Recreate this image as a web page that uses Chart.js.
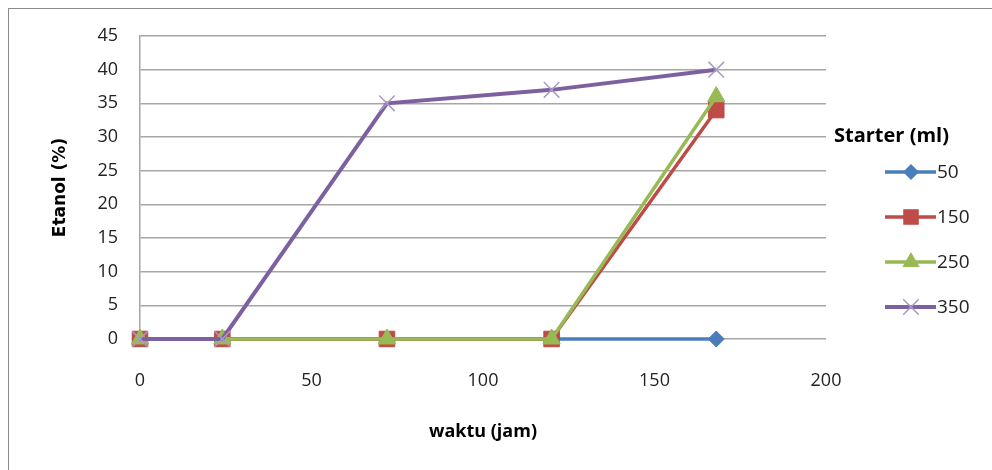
<!DOCTYPE html>
<html>
<head>
<meta charset="utf-8">
<script src="https://cdn.jsdelivr.net/npm/chart.js@4"></script>
<style>
  html, body { margin: 0; padding: 0; background: #fff; overflow: hidden; }
  #wrap { position: relative; width: 992px; height: 470px; }
  #frame { position: absolute; left: 8px; top: 8px; width: 1100px; height: 600px; border: 1px solid #8c8c8c; }
  canvas { position: absolute; left: 0; top: 0; }
</style>
</head>
<body>
<div id="wrap">
  <div id="frame"></div>
  <canvas id="etanolChart" width="992" height="470"></canvas>
</div>
<script>
// data
const hours = [0, 24, 72, 120, 168];
const starter50 = [0, 0, 0, 0, 0];
const starter150 = [0, 0, 0, 0, 34];
const starter250 = [0, 0, 0, 0, 36];
const starter350 = [0, 0, 35, 37, 40];
const seriesLabels = ['50', '150', '250', '350'];
const xTicks = [0, 50, 100, 150, 200];
const yTicks = [0, 5, 10, 15, 20, 25, 30, 35, 40, 45];

function toPoints(vals) {
    return hours.map((h, i) => ({ x: h, y: vals[i] }));
}

// legend drawn on the right, Excel style
const sideLegend = {
    id: 'sideLegend',
    afterDraw(chart) {
        const ctx = chart.ctx;
        ctx.save();
        ctx.fillStyle = '#000';
        ctx.font = 'bold 20px "Open Sans"';
        ctx.textBaseline = 'middle';
        ctx.textAlign = 'left';
        ctx.fillText('Starter (ml)', 834, 136);
        ctx.font = '19px "Open Sans"';
        chart.data.datasets.forEach((ds, i) => {
            const y = 172 + i * 45;
            ctx.strokeStyle = ds.borderColor;
            ctx.lineWidth = ds.borderWidth;
            ctx.beginPath();
            ctx.moveTo(885, y);
            ctx.lineTo(936, y);
            ctx.stroke();
            drawMarker(ctx, ds, 911, y);
            ctx.fillStyle = '#222';
            ctx.fillText(seriesLabels[i], 937, y + 1);
        });
        ctx.restore();
    }
};

function drawMarker(ctx, ds, x, y) {
    const r = ds.pointRadius;
    ctx.fillStyle = ds.pointBackgroundColor;
    ctx.strokeStyle = ds.pointBorderColor;
    ctx.lineWidth = ds.pointBorderWidth;
    ctx.beginPath();
    if (ds.pointStyle === 'rectRot') {
        ctx.moveTo(x - r, y); ctx.lineTo(x, y - r); ctx.lineTo(x + r, y); ctx.lineTo(x, y + r); ctx.closePath();
        ctx.fill();
    } else if (ds.pointStyle === 'rect') {
        const s = r * Math.SQRT1_2;
        ctx.rect(x - s, y - s, 2 * s, 2 * s);
        ctx.fill();
    } else if (ds.pointStyle === 'triangle') {
        ctx.moveTo(x, y - r);
        ctx.lineTo(x + r * 0.866, y + r * 0.5);
        ctx.lineTo(x - r * 0.866, y + r * 0.5);
        ctx.closePath();
        ctx.fill();
    } else {
        const d = r * Math.SQRT1_2;
        ctx.moveTo(x - d, y - d); ctx.lineTo(x + d, y + d);
        ctx.moveTo(x + d, y - d); ctx.lineTo(x - d, y + d);
        ctx.stroke();
    }
}

const ctx = document.getElementById('etanolChart').getContext('2d');
const chart = new Chart(ctx, {
    type: 'line',
    data: {
        datasets: [{
            label: seriesLabels[0],
            data: toPoints(starter50),
            borderColor: '#4a7ebb',
            borderWidth: 3.5,
            pointStyle: 'rectRot',
            pointRadius: 8,
            pointBackgroundColor: '#4a7ebb',
            pointBorderColor: '#4a7ebb',
            pointBorderWidth: 1,
            clip: false,
            order: 3
        }, {
            label: seriesLabels[1],
            data: toPoints(starter150),
            borderColor: '#be4b48',
            borderWidth: 3.5,
            pointStyle: 'rect',
            pointRadius: 11,
            pointBackgroundColor: '#be4b48',
            pointBorderColor: '#be4b48',
            pointBorderWidth: 1,
            clip: false,
            order: 2
        }, {
            label: seriesLabels[2],
            data: toPoints(starter250),
            borderColor: '#98b954',
            borderWidth: 3.5,
            pointStyle: 'triangle',
            pointRadius: 10,
            pointBackgroundColor: '#98b954',
            pointBorderColor: '#98b954',
            pointBorderWidth: 1,
            clip: false,
            order: 1
        }, {
            label: seriesLabels[3],
            data: toPoints(starter350),
            borderColor: '#7d60a0',
            borderWidth: 4,
            pointStyle: 'crossRot',
            pointRadius: 11,
            pointBackgroundColor: '#a99bc9',
            pointBorderColor: '#a99bc9',
            pointBorderWidth: 1.5,
            clip: false,
            order: 0
        }]
    },
    options: {
        responsive: false,
        animation: false,
        devicePixelRatio: 1,
        layout: { padding: { left: 0, top: 36, right: 166, bottom: 0 } },
        plugins: {
            legend: { display: false },
            tooltip: { enabled: false }
        },
        scales: {
            x: {
                type: 'linear',
                min: 0,
                max: 200,
                afterFit: s => { s.height = 131; },
                afterBuildTicks: s => { s.ticks = xTicks.map(v => ({ value: v })); },
                grid: { display: false, drawTicks: false },
                border: { display: false },
                ticks: {
                    padding: 31,
                    color: '#222',
                    font: { family: 'Open Sans', size: 18 }
                },
                title: {
                    display: true,
                    text: 'waktu (jam)',
                    color: '#000',
                    font: { family: 'Open Sans', size: 18, weight: 'bold' },
                    padding: { top: 0, bottom: 27 }
                }
            },
            y: {
                min: 0,
                max: 45,
                afterFit: s => { s.width = 140; },
                afterBuildTicks: s => { s.ticks = yTicks.map(v => ({ value: v })); },
                grid: { color: '#a6a6a6', lineWidth: 1.5, drawTicks: false },
                border: { display: true, color: '#a6a6a6', width: 1.5 },
                ticks: {
                    padding: 22,
                    color: '#222',
                    font: { family: 'Open Sans', size: 18 }
                },
                title: {
                    display: true,
                    text: 'Etanol (%)',
                    color: '#000',
                    font: { family: 'DejaVu Sans', size: 17, weight: 'bold' },
                    padding: { top: 50, bottom: 0 }
                }
            }
        }
    },
    plugins: [sideLegend]
});
</script>
</body>
</html>
